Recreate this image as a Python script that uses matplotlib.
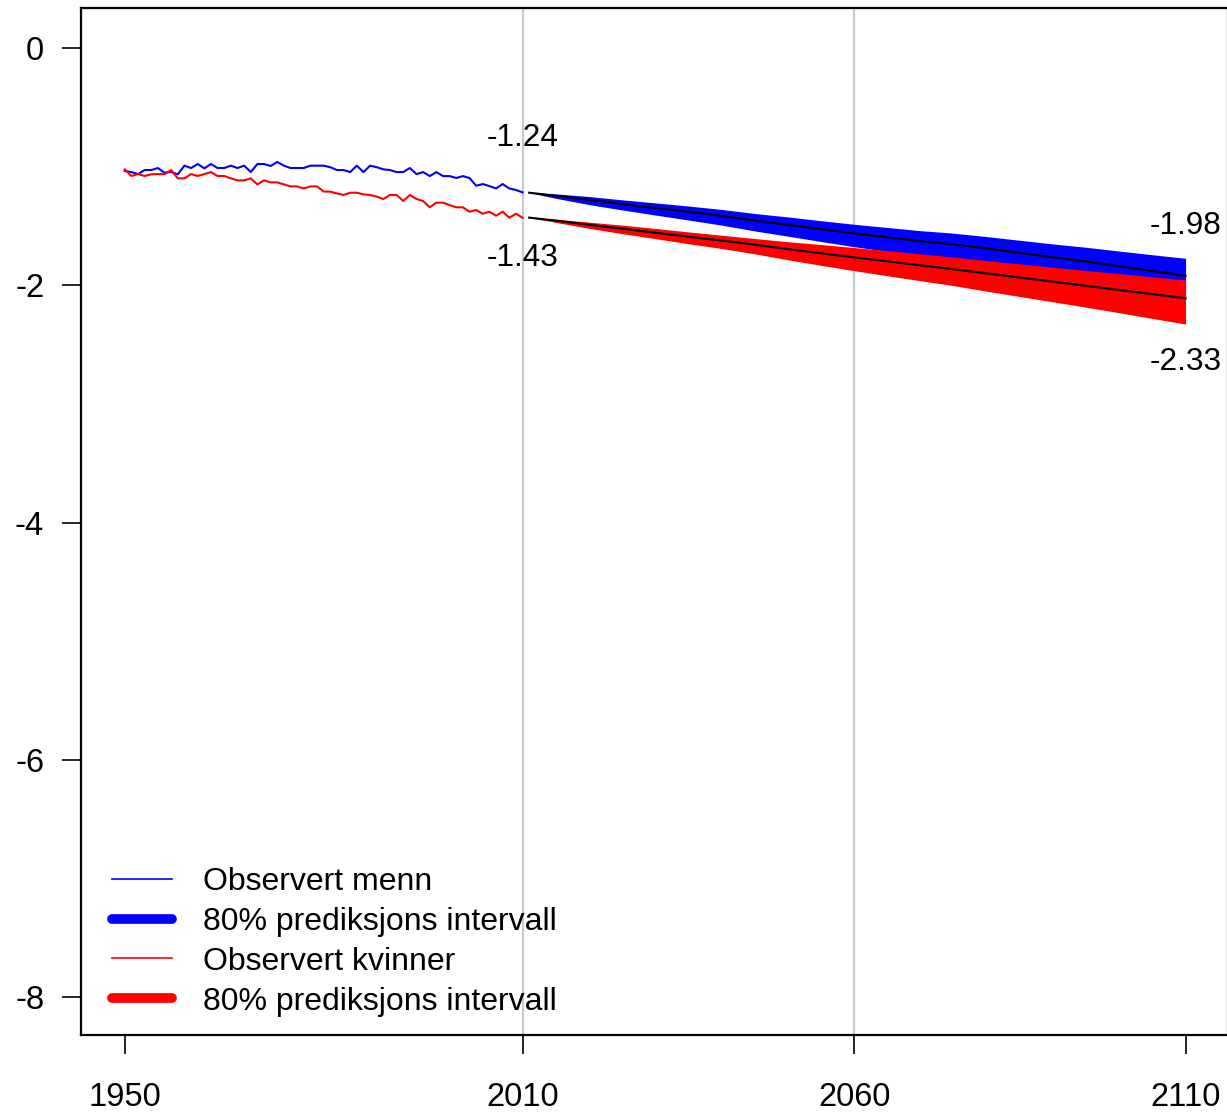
import matplotlib
matplotlib.use("Agg")
import matplotlib.pyplot as plt
from matplotlib.lines import Line2D

plt.rcParams['font.family'] = ['Liberation Sans', 'DejaVu Sans']

# Observed series 1950-2010
obs_years = list(range(1950, 2011))
obs_men = [-1.037, -1.046, -1.063, -1.029, -1.029, -1.012, -1.051, -1.046, -1.065, -0.992,
           -1.012, -0.978, -1.015, -0.978, -1.012, -1.012, -0.992, -1.012, -0.992, -1.046,
           -0.978, -0.978, -0.995, -0.961, -0.992, -1.012, -1.012, -1.012, -0.992, -0.992,
           -0.992, -1.005, -1.029, -1.029, -1.046, -0.992, -1.046, -0.992, -1.005, -1.023,
           -1.029, -1.046, -1.046, -1.012, -1.063, -1.046, -1.080, -1.046, -1.080, -1.080,
           -1.096, -1.080, -1.096, -1.161, -1.147, -1.164, -1.184, -1.147, -1.184, -1.197,
           -1.217]
obs_women = [-1.023, -1.079, -1.063, -1.079, -1.065, -1.063, -1.063, -1.029, -1.099, -1.099,
             -1.063, -1.079, -1.063, -1.046, -1.079, -1.079, -1.099, -1.116, -1.116, -1.099,
             -1.150, -1.116, -1.133, -1.133, -1.150, -1.167, -1.167, -1.184, -1.167, -1.167,
             -1.210, -1.211, -1.226, -1.239, -1.220, -1.220, -1.234, -1.239, -1.253, -1.273,
             -1.239, -1.239, -1.290, -1.239, -1.273, -1.290, -1.343, -1.304, -1.304, -1.324,
             -1.343, -1.343, -1.380, -1.366, -1.397, -1.380, -1.414, -1.380, -1.431, -1.397,
             -1.431]

# Forecast 2011-2110
fc_years = [2011, 2015, 2020, 2025, 2030, 2035, 2040, 2045, 2050, 2055, 2060,
            2065, 2070, 2075, 2080, 2085, 2090, 2095, 2100, 2105, 2110]
men_mid = [-1.22, -1.245, -1.28, -1.315, -1.348, -1.38, -1.415, -1.455, -1.49, -1.527, -1.563,
           -1.595, -1.628, -1.655, -1.69, -1.727, -1.765, -1.80, -1.84, -1.88, -1.92]
men_hi = [-1.22, -1.23, -1.252, -1.28, -1.306, -1.332, -1.361, -1.395, -1.424, -1.456, -1.486,
          -1.513, -1.54, -1.561, -1.59, -1.621, -1.652, -1.68, -1.712, -1.743, -1.773]
men_lo = [-1.22, -1.267, -1.32, -1.365, -1.408, -1.45, -1.493, -1.542, -1.586, -1.631, -1.675,
          -1.715, -1.756, -1.791, -1.835, -1.881, -1.929, -1.974, -2.026, -2.078, -2.13]
women_mid = [-1.43, -1.455, -1.49, -1.523, -1.557, -1.59, -1.623, -1.658, -1.695, -1.73, -1.765,
             -1.798, -1.832, -1.865, -1.9, -1.935, -1.97, -2.005, -2.04, -2.075, -2.11]
women_hi = [-1.43, -1.443, -1.468, -1.493, -1.521, -1.55, -1.578, -1.606, -1.633, -1.657, -1.682,
            -1.708, -1.735, -1.762, -1.792, -1.82, -1.848, -1.875, -1.902, -1.929, -1.956]
women_lo = [-1.43, -1.47, -1.52, -1.565, -1.607, -1.65, -1.69, -1.735, -1.785, -1.832, -1.877,
            -1.92, -1.962, -2.003, -2.05, -2.095, -2.14, -2.185, -2.232, -2.28, -2.327]

xticks = [1950, 2010, 2060, 2110]
yticks = [0, -2, -4, -6, -8]
vlines = [2010, 2060]
annotations = [(2010, -0.759, "-1.24"), (2010, -1.771, "-1.43"),
               (2110, -1.50, "-1.98"), (2110, -2.648, "-2.33")]
legend_labels = ["Observert menn", "80% prediksjons intervall",
                 "Observert kvinner", "80% prediksjons intervall"]

W, H = 1227, 1115
fig = plt.figure(figsize=(W / 100, H / 100), dpi=100)
ax = fig.add_axes([81 / W, 80 / H, 1147 / W, 1027 / H])

for v in vlines:
    ax.axvline(v, color='#c4ccd0', lw=1.6, zorder=1)

ax.plot(obs_years, obs_men, color='#0000ff', lw=1.5, zorder=3)
ax.plot(obs_years, obs_women, color='#ff0000', lw=1.5, zorder=3)

ax.fill_between(fc_years, men_lo, men_hi, color='#0000ff', lw=0, zorder=2)
ax.fill_between(fc_years, women_lo, women_hi, color='#ff0000', lw=0, zorder=2.1)
ax.plot(fc_years, men_mid, color='black', lw=1.5, zorder=4)
ax.plot(fc_years, women_mid, color='black', lw=1.5, zorder=4)

for x, y, s in annotations:
    ax.text(x, y, s, ha='center', va='center', fontsize=22.7, zorder=5)

ax.set_xlim(1943.4, 2116.4)
ax.set_ylim(-8.32, 0.337)
ax.set_xticks(xticks)
ax.set_yticks(yticks)
ax.set_yticklabels([str(t) for t in yticks])
ax.tick_params(axis='x', length=13.5, width=1.2, pad=20, labelsize=23.5)
ax.tick_params(axis='y', length=13.5, width=1.2, pad=13, labelsize=23.5)
for s in ax.spines.values():
    s.set_linewidth(1.6)

handles = [Line2D([], [], color='#0000ff', lw=1.2),
           Line2D([], [], color='#0000ff', lw=7, solid_capstyle='round'),
           Line2D([], [], color='#ff0000', lw=1.2),
           Line2D([], [], color='#ff0000', lw=7, solid_capstyle='round')]
ax.legend(handles, legend_labels, loc='lower left', bbox_to_anchor=(0.027, 0.018),
          frameon=False, fontsize=23, handlelength=1.88, handletextpad=0.97,
          labelspacing=0.31, borderpad=0, borderaxespad=0)

fig.savefig("out.png", dpi=100)
